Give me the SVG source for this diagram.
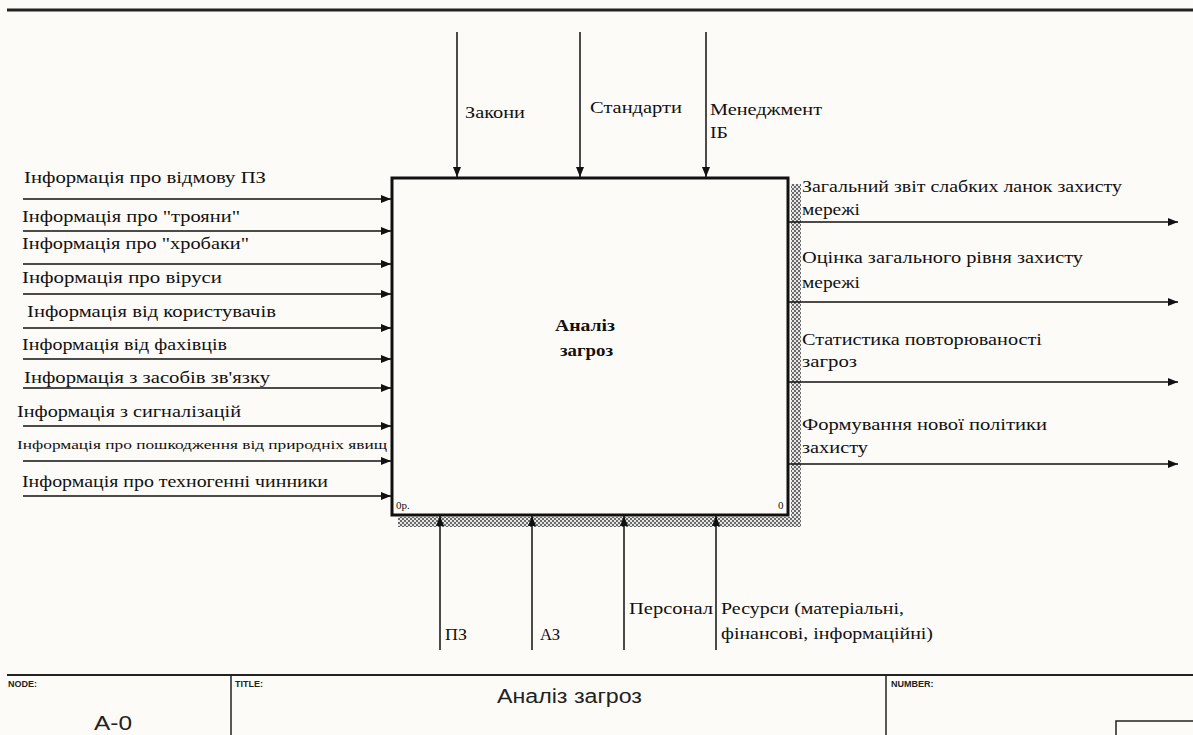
<svg xmlns="http://www.w3.org/2000/svg" width="1193" height="735" viewBox="0 0 1193 735">
<style>
.lbl{font-family:"Liberation Serif","Times New Roman",serif;font-size:17px;fill:#111}
.sm{font-size:13px}
.ctr{font-family:"Liberation Serif","Times New Roman",serif;font-size:17px;font-weight:bold;fill:#111}
.tb{font-family:"Liberation Sans",Arial,sans-serif;font-size:9px;font-weight:bold;fill:#222}
.tt{font-family:"Liberation Sans",Arial,sans-serif;fill:#222}
.ar{stroke:#111;stroke-width:1.5;fill:none;marker-end:url(#ah)}
</style>
<defs>
<marker id="ah" markerUnits="userSpaceOnUse" markerWidth="10" markerHeight="8" refX="10" refY="4" orient="auto">
<path d="M0,0 L10,4 L0,8 Z" fill="#111"/>
</marker>
<pattern id="hatch" width="4" height="4" patternUnits="userSpaceOnUse">
<rect width="4" height="4" fill="#e6e6e6"/>
<rect x="0" y="0" width="2" height="2" fill="#6a6a6a"/>
<rect x="2" y="2" width="2" height="2" fill="#6a6a6a"/>
</pattern>
</defs>
<rect width="1193" height="735" fill="#fcfbf7"/>
<line x1="7" y1="10" x2="1193" y2="10" stroke="#222" stroke-width="3"/>

<g id="node-A0">
<rect x="791" y="184" width="10" height="343" fill="url(#hatch)"/>
<rect x="398" y="517" width="403" height="10" fill="url(#hatch)"/>
<rect x="392" y="178" width="396" height="337" fill="none" stroke="#111" stroke-width="3"/>
<text class="ctr" x="555" y="331" textLength="60" lengthAdjust="spacingAndGlyphs">Аналіз</text>
<text class="ctr" x="560" y="356" textLength="53" lengthAdjust="spacingAndGlyphs">загроз</text>
<text class="lbl" x="396" y="509" style="font-size:11px">0р.</text>
<text class="lbl" x="778" y="509" style="font-size:11px">0</text>
</g>

<g id="connectors">
<line class="ar" x1="23" y1="199" x2="391" y2="199"/>
<line class="ar" x1="23" y1="231" x2="391" y2="231"/>
<line class="ar" x1="23" y1="264" x2="391" y2="264"/>
<line class="ar" x1="23" y1="294" x2="391" y2="294"/>
<line class="ar" x1="23" y1="328" x2="391" y2="328"/>
<line class="ar" x1="23" y1="359" x2="391" y2="359"/>
<line class="ar" x1="23" y1="388" x2="391" y2="388"/>
<line class="ar" x1="23" y1="426" x2="391" y2="426"/>
<line class="ar" x1="23" y1="461" x2="391" y2="461"/>
<line class="ar" x1="23" y1="496" x2="391" y2="496"/>
<text class="lbl" x="24" y="183" textLength="242" lengthAdjust="spacingAndGlyphs">Інформація про відмову ПЗ</text>
<text class="lbl" x="22" y="222" textLength="218" lengthAdjust="spacingAndGlyphs">Інформація про "трояни"</text>
<text class="lbl" x="22" y="249" textLength="227" lengthAdjust="spacingAndGlyphs">Інформація про "хробаки"</text>
<text class="lbl" x="22" y="283" textLength="200" lengthAdjust="spacingAndGlyphs">Інформація про віруси</text>
<text class="lbl" x="27" y="317" textLength="249" lengthAdjust="spacingAndGlyphs">Інформація від користувачів</text>
<text class="lbl" x="22" y="350" textLength="205" lengthAdjust="spacingAndGlyphs">Інформація від фахівців</text>
<text class="lbl" x="24" y="383" textLength="246" lengthAdjust="spacingAndGlyphs">Інформація з засобів зв'язку</text>
<text class="lbl" x="17" y="417" textLength="224" lengthAdjust="spacingAndGlyphs">Інформація з сигналізацій</text>
<text class="lbl sm" x="17" y="449" textLength="370" lengthAdjust="spacingAndGlyphs">Інформація про пошкодження від природніх явищ</text>
<text class="lbl" x="22" y="487" textLength="306" lengthAdjust="spacingAndGlyphs">Інформація про техногенні чинники</text>

<line class="ar" x1="457" y1="32" x2="457" y2="177"/>
<line class="ar" x1="580" y1="32" x2="580" y2="177"/>
<line class="ar" x1="706" y1="32" x2="706" y2="177"/>
<text class="lbl" x="465" y="118" textLength="60" lengthAdjust="spacingAndGlyphs">Закони</text>
<text class="lbl" x="590" y="113" textLength="92" lengthAdjust="spacingAndGlyphs">Стандарти</text>
<text class="lbl" x="710" y="115" textLength="112" lengthAdjust="spacingAndGlyphs">Менеджмент</text>
<text class="lbl" x="710" y="138" textLength="18" lengthAdjust="spacingAndGlyphs">ІБ</text>

<line class="ar" x1="789" y1="222" x2="1178" y2="222"/>
<line class="ar" x1="789" y1="302" x2="1178" y2="302"/>
<line class="ar" x1="789" y1="382" x2="1178" y2="382"/>
<line class="ar" x1="789" y1="464" x2="1178" y2="464"/>
<text class="lbl" x="802" y="192" textLength="320" lengthAdjust="spacingAndGlyphs">Загальний звіт слабких ланок захисту</text>
<text class="lbl" x="802" y="215" textLength="58" lengthAdjust="spacingAndGlyphs">мережі</text>
<text class="lbl" x="802" y="263" textLength="281" lengthAdjust="spacingAndGlyphs">Оцінка загального рівня захисту</text>
<text class="lbl" x="802" y="288" textLength="58" lengthAdjust="spacingAndGlyphs">мережі</text>
<text class="lbl" x="802" y="345" textLength="240" lengthAdjust="spacingAndGlyphs">Статистика повторюваності</text>
<text class="lbl" x="802" y="367" textLength="55" lengthAdjust="spacingAndGlyphs">загроз</text>
<text class="lbl" x="802" y="430" textLength="245" lengthAdjust="spacingAndGlyphs">Формування нової політики</text>
<text class="lbl" x="802" y="453" textLength="66" lengthAdjust="spacingAndGlyphs">захисту</text>

<line class="ar" x1="440" y1="650" x2="440" y2="516"/>
<line class="ar" x1="532" y1="650" x2="532" y2="516"/>
<line class="ar" x1="624" y1="650" x2="624" y2="516"/>
<line class="ar" x1="716" y1="650" x2="716" y2="516"/>
<text class="lbl" x="445" y="640" textLength="22" lengthAdjust="spacingAndGlyphs">ПЗ</text>
<text class="lbl" x="540" y="640" textLength="20" lengthAdjust="spacingAndGlyphs">АЗ</text>
<text class="lbl" x="629" y="614" textLength="84" lengthAdjust="spacingAndGlyphs">Персонал</text>
<text class="lbl" x="721" y="614" textLength="183" lengthAdjust="spacingAndGlyphs">Ресурси (матеріальні,</text>
<text class="lbl" x="721" y="639" textLength="212" lengthAdjust="spacingAndGlyphs">фінансові, інформаційні)</text>
</g>

<g id="title-block">
<line x1="7" y1="675" x2="1193" y2="675" stroke="#222" stroke-width="2"/>
<line x1="231" y1="675" x2="231" y2="735" stroke="#222" stroke-width="1.5"/>
<line x1="886" y1="675" x2="886" y2="735" stroke="#222" stroke-width="1.5"/>
<text class="tb" x="8" y="687">NODE:</text>
<text class="tb" x="235" y="687">TITLE:</text>
<text class="tb" x="891" y="687">NUMBER:</text>
<text class="tt" x="94" y="730" font-size="20" textLength="38" lengthAdjust="spacingAndGlyphs">A-0</text>
<text class="tt" x="497" y="703" font-size="20" textLength="145" lengthAdjust="spacingAndGlyphs">Аналіз  загроз</text>
<rect x="1116" y="721" width="90" height="30" fill="none" stroke="#222" stroke-width="1.5"/>
</g>
</svg>
